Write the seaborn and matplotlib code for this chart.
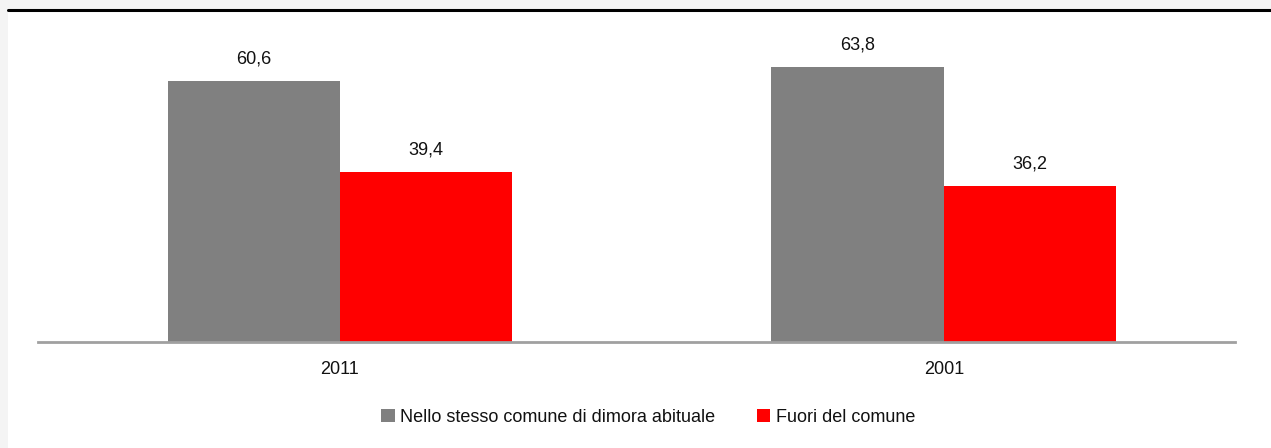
import matplotlib
matplotlib.use("Agg")
import matplotlib.pyplot as plt
import seaborn as sns
import pandas as pd
from matplotlib.patches import Rectangle, Patch
from matplotlib.lines import Line2D

years = ["2011", "2001"]
series = ["Nello stesso comune di dimora abituale", "Fuori del comune"]
same_comune = [60.6, 63.8]
other_comune = [39.4, 36.2]
colors = ["#808080", "#FF0000"]

df = pd.DataFrame({
    "year": years * 2,
    "series": [series[0]] * 2 + [series[1]] * 2,
    "value": same_comune + other_comune,
})

sns.set_theme(style="white")
plt.rcParams["font.family"] = ["Liberation Sans Narrow", "Liberation Sans", "DejaVu Sans"]
FS = 13

fig = plt.figure(figsize=(12.71, 4.48), dpi=100, facecolor="#f4f4f4")
fig.patches.append(Rectangle((8 / 1271, 0), 1, (448 - 10) / 448, transform=fig.transFigure,
                             facecolor="white", edgecolor="none", zorder=-10))
fig.lines.append(Line2D([8 / 1271, 1], [(448 - 10) / 448] * 2, transform=fig.transFigure,
                        color="black", linewidth=2.2))

ax = fig.add_axes([38 / 1271, (448 - 342) / 448, (1235 - 38) / 1271, (342 - 20) / 448])
ax.set_facecolor("none")
ax.set_zorder(5)
sns.barplot(data=df, x="year", y="value", hue="series", palette=colors,
            width=0.571, ax=ax, legend=False, saturation=1,
            edgecolor="none", linewidth=0)

ax.set_ylim(0, 74.8)
ax.set_xlim(-0.5, 1.482)
for c in ax.containers:
    ax.bar_label(c, labels=[f"{v:.1f}".replace(".", ",") for v in c.datavalues],
                 padding=10, fontsize=FS, color="#111111")

for s in ["top", "left", "right"]:
    ax.spines[s].set_visible(False)
ax.spines["bottom"].set_color("#a0a0a0")
ax.spines["bottom"].set_linewidth(2)
ax.set_yticks([])
ax.set_xlabel("")
ax.set_ylabel("")
ax.tick_params(axis="x", length=0, pad=14, labelsize=FS, labelcolor="#111111")

handles = [Patch(facecolor=colors[i], edgecolor="none", label=series[i]) for i in range(2)]
fig.legend(handles=handles, loc="center", bbox_to_anchor=(648 / 1271, (448 - 417) / 448),
           ncol=2, frameon=False, fontsize=FS, handlelength=0.75, handleheight=0.75,
           handletextpad=0.3, columnspacing=2.3, labelcolor="#111111")

fig.savefig("out.png", dpi=100, facecolor=fig.get_facecolor())
